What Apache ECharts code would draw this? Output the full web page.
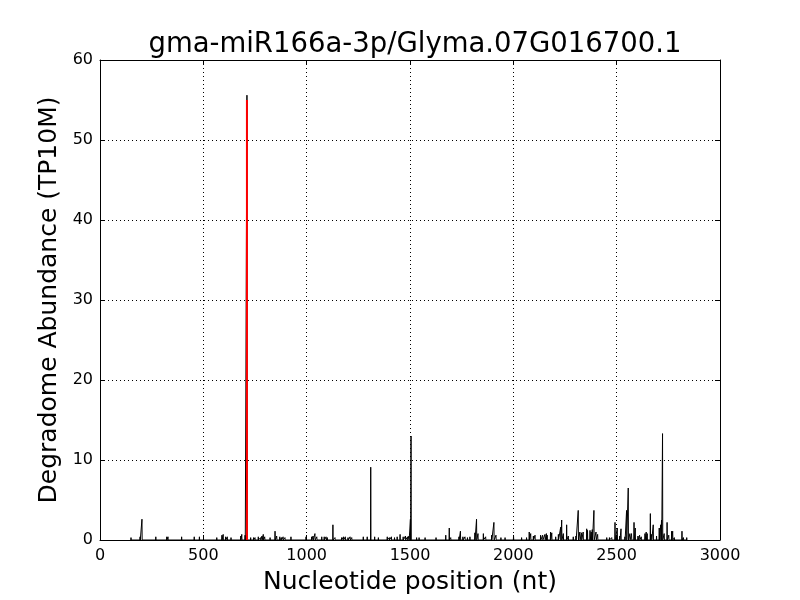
<!DOCTYPE html>
<html>
<head>
<meta charset="utf-8">
<script src="https://cdn.jsdelivr.net/npm/echarts@6/dist/echarts.min.js"></script>
<style>html,body{margin:0;padding:0;background:#fff}#c{width:800px;height:600px}</style>
</head>
<body>
<div id="c"></div>
<script>
const titleText = 'gma-miR166a-3p/Glyma.07G016700.1';
const xName = 'Nucleotide position (nt)';
const yName = 'Degradome Abundance (TP10M)';
const xTicks = [0, 500, 1000, 1500, 2000, 2500, 3000];
const yTicks = [0, 10, 20, 30, 40, 50, 60];

const positions = [150,194,203,270,323,329,395,456,481,565,590,596,608,616,634,681,686,702,711,729,743,750,766,777,784,790,797,823,847,855,870,878,886,895,924,997,
1024,1031,1040,1049,1073,1085,1094,1100,1127,1137,1169,1178,1187,1200,1210,1218,1274,1293,1310,1329,1347,1390,1400,1410,1425,1438,1452,1467,1478,1488,1495,1502,1505,
1532,1544,1573,1626,1673,1690,1697,1737,1744,1756,1766,1778,1790,1814,1822,1829,1855,1866,1895,1906,1916,1940,1960,2001,
2040,2064,2077,2084,2097,2105,2132,2142,2153,2160,2164,2180,2186,2205,2218,2229,2234,2242,2258,2266,2290,2303,2314,2322,2330,2338,2355,2359,2371,2377,2382,2390,2400,2408,2452,2465,2476,2492,
2503,2515,2521,2540,2548,2556,2564,2572,2584,2590,2603,2611,2619,2637,2643,2648,2663,2669,2677,2693,2706,2713,2717,2722,2730,2744,2752,2766,2771,2779,2816,2823,2839];
const values = [0.3,0.4,2.6,0.4,0.4,0.4,0.4,0.4,0.4,0.3,0.6,0.7,0.4,0.4,0.3,0.5,0.7,0.6,55.6,0.3,0.3,0.3,0.4,0.3,0.5,0.7,0.4,0.3,1.1,0.5,0.4,0.3,0.4,0.3,0.4,0.4,
0.4,0.5,0.8,0.4,0.4,0.4,0.4,0.3,1.9,0.3,0.3,0.4,0.4,0.3,0.4,0.3,0.4,0.4,9.1,0.4,0.3,0.4,0.3,0.4,0.3,0.4,0.7,0.4,0.5,0.4,0.5,2.6,13.0,
0.3,0.3,0.3,0.3,0.6,1.5,0.3,0.4,1.1,0.4,0.4,0.3,0.4,0.9,2.6,0.8,0.8,0.4,0.6,2.2,0.6,0.3,0.3,0.5,
0.3,0.3,1.0,0.8,0.5,0.6,0.6,0.6,0.7,0.8,0.6,1.0,0.9,0.4,0.7,1.6,2.5,0.8,1.9,0.5,0.4,0.5,3.7,1.0,0.9,1.0,1.4,1.2,1.2,1.0,1.3,3.7,1.0,0.7,0.3,0.3,0.3,2.2,
1.5,0.5,1.4,0.4,3.7,6.5,0.8,0.8,2.2,1.5,0.5,0.6,0.4,0.8,1.0,0.8,3.3,0.7,1.9,0.5,1.5,1.9,2.5,13.3,0.8,2.2,0.6,1.1,1.1,0.3,1.1,0.3,0.3];

const sitePosition = 711;
const siteValue = 55.0;

// build a profile line that returns to zero between positions
const profile = [];
for (let i = 0; i < positions.length; i++) {
  profile.push([positions[i] - 1, 0]);
  profile.push([positions[i], values[i]]);
  profile.push([positions[i] + 1, 0]);
}
const siteLine = [[sitePosition, 0], [sitePosition, siteValue]];

const font = 'DejaVu Sans';
const chart = echarts.init(document.getElementById('c'), null, {renderer: 'canvas'});

const baseAxis = {
  axisLine: {show: true, onZero: false, lineStyle: {color: '#000', width: 1}},
  axisTick: {show: true, inside: true, length: 5, lineStyle: {color: '#000', width: 1}},
};
const plain = v => String(v);

chart.setOption({
  animation: false,
  backgroundColor: '#fff',
  title: {
    text: titleText,
    left: 410, top: 26, textAlign: 'center',
    textStyle: {fontFamily: font, fontSize: 27.5, fontWeight: 'normal', color: '#000'}
  },
  grid: {left: 100, right: 80, top: 60, bottom: 60, containLabel: false},
  xAxis: [
    Object.assign({}, baseAxis, {
      type: 'value', min: xTicks[0], max: xTicks[xTicks.length - 1], interval: 500,
      position: 'bottom',
      name: xName, nameLocation: 'middle', nameGap: 30,
      nameTextStyle: {fontFamily: font, fontSize: 25, color: '#000'},
      axisLabel: {fontFamily: font, fontSize: 16, color: '#000', margin: 8, formatter: plain},
      splitLine: {show: true, lineStyle: {type: [1, 3], color: '#000', width: 1}}
    }),
    Object.assign({}, baseAxis, {
      type: 'value', min: xTicks[0], max: xTicks[xTicks.length - 1], interval: 500,
      position: 'top', axisLabel: {show: false}, splitLine: {show: false}
    })
  ],
  yAxis: [
    Object.assign({}, baseAxis, {
      type: 'value', min: yTicks[0], max: yTicks[yTicks.length - 1], interval: 10,
      position: 'left',
      name: yName, nameLocation: 'middle', nameGap: 32, nameRotate: 90,
      nameTextStyle: {fontFamily: font, fontSize: 25, color: '#000'},
      axisLabel: {fontFamily: font, fontSize: 16, color: '#000', margin: 7, formatter: plain},
      splitLine: {show: true, lineStyle: {type: [1, 3], color: '#000', width: 1}}
    }),
    Object.assign({}, baseAxis, {
      type: 'value', min: yTicks[0], max: yTicks[yTicks.length - 1], interval: 10,
      position: 'right', axisLabel: {show: false}, splitLine: {show: false}
    })
  ],
  series: [
    {
      type: 'line', data: profile, xAxisIndex: 0, yAxisIndex: 0,
      showSymbol: false, symbol: 'none',
      lineStyle: {color: '#000', width: 1}, z: 3
    },
    {
      type: 'line', data: siteLine, xAxisIndex: 0, yAxisIndex: 0,
      showSymbol: false, symbol: 'none',
      lineStyle: {color: '#ff0000', width: 2}, z: 4
    }
  ]
});
</script>
</body>
</html>
